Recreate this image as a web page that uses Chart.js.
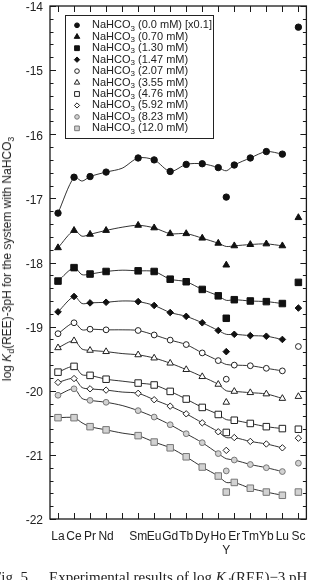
<!DOCTYPE html>
<html>
<head>
<meta charset="utf-8">
<script src="https://cdn.jsdelivr.net/npm/chart.js@4.4.1/dist/chart.umd.min.js"></script>
<style>
  html, body { margin: 0; padding: 0; background: #fff; overflow: hidden; }
  #wrap { position: relative; width: 312px; height: 580px; overflow: hidden; }
  #ytitle {
    position: absolute; left: 7px; top: 259px;
    transform: translate(-50%, -50%) rotate(-90deg);
    white-space: nowrap; font: 12px "Liberation Sans", Arial, sans-serif; color: #222;
  }
  #caption {
    position: absolute; left: 0; top: 569px; width: 312px; height: 20px;
    font: 15px "Liberation Serif", "Times New Roman", serif; color: #222; white-space: nowrap;
  }
  #caption span { position: absolute; top: 0; }
  sub { font-size: 72%; vertical-align: -0.3em; line-height: 0; }
</style>
</head>
<body>
<div id="wrap">
  <canvas id="kdChart"></canvas>
  <div id="ytitle">log <i>K</i><sub>d</sub>(REE)-3pH for the system with NaHCO<sub>3</sub></div>
  <div id="caption"><span style="left:-7px">Fig. 5</span><span style="left:49px">Experimental results of log <i>K</i><sub>d</sub>(REE)−3 pH</span></div>
</div>
<script>
// x axis: Pm has no data, Y sits between Ho and Er
var reeNames = ['La', 'Ce', 'Pr', 'Nd', 'Pm', 'Sm', 'Eu', 'Gd', 'Tb', 'Dy', 'Ho', 'Er', 'Tm', 'Yb', 'Lu', 'Sc'];
var reeX = [1, 2, 3, 4, 6, 7, 8, 9, 10, 11, 12, 13, 14, 15]; // La..Lu (no Pm)
var yElemX = 11.5;
var scX = 16;

// NaHCO3 concentrations for the legend
var concLabels = ['0.0 mM', '0.70 mM', '1.30 mM', '1.47 mM', '2.07 mM', '3.55 mM', '4.76 mM', '5.92 mM', '8.23 mM', '12.0 mM'];
var concNotes = [' [x0.1]', '', '', '', '', '', '', '', '', ''];

// log Kd(REE)-3pH, La..Lu
var na000 = [-17.23, -16.67, -16.66, -16.59, -16.37, -16.40, -16.58, -16.47, -16.46, -16.52, -16.48, -16.37, -16.27, -16.31];
var na070 = [-17.77, -17.50, -17.56, -17.50, -17.42, -17.46, -17.55, -17.55, -17.62, -17.70, -17.74, -17.72, -17.71, -17.74];
var na130 = [-18.29, -18.08, -18.18, -18.14, -18.13, -18.14, -18.26, -18.30, -18.42, -18.52, -18.58, -18.60, -18.61, -18.64];
var na147 = [-18.77, -18.53, -18.63, -18.62, -18.61, -18.67, -18.78, -18.84, -18.94, -19.06, -19.12, -19.14, -19.15, -19.20];
var na207 = [-19.11, -18.94, -19.04, -19.05, -19.06, -19.13, -19.21, -19.28, -19.41, -19.53, -19.60, -19.61, -19.65, -19.69];
var na355 = [-19.33, -19.22, -19.37, -19.39, -19.44, -19.49, -19.57, -19.67, -19.78, -19.90, -20.01, -20.03, -20.05, -20.12];
var na476 = [-19.71, -19.62, -19.76, -19.82, -19.88, -19.91, -20.01, -20.13, -20.26, -20.37, -20.46, -20.51, -20.56, -20.59];
var na592 = [-19.87, -19.81, -19.97, -19.99, -20.04, -20.14, -20.24, -20.36, -20.50, -20.64, -20.73, -20.79, -20.83, -20.89];
var na823 = [-20.07, -19.97, -20.15, -20.18, -20.31, -20.41, -20.53, -20.67, -20.81, -20.98, -21.08, -21.15, -21.20, -21.26];
var na120 = [-20.42, -20.42, -20.56, -20.61, -20.70, -20.80, -20.89, -21.03, -21.19, -21.33, -21.43, -21.52, -21.58, -21.63];

// Y and Sc points (not on the curves)
var yValues = [-16.98, -18.04, -18.87, -19.39, -19.82, -20.18, -20.65, -20.93, -21.25, -21.58];
var scValues = [-14.33, -17.30, -18.31, -18.71, -19.31, -20.09, -20.60, -20.74, -21.13, -21.58];

// extra vertices of the drawn curves: between Ce and Pr, at Pm, at Y
var curveCePr = [-16.73, -17.59, -18.19, -18.64, -19.05, -19.35, -19.75, -19.95, -20.12, -20.50];
var curvePm = [-16.53, -17.45, -18.12, -18.60, -19.05, -19.42, -19.85, -20.02, -20.23, -20.66];
var curveAtY = [-16.57, -17.75, -18.59, -19.12, -19.59, -20.00, -20.45, -20.73, -21.06, -21.43];

var seriesValues = [na000, na070, na130, na147, na207, na355, na476, na592, na823, na120];

// marker styles
var pointStyles = ['circle', 'triangle', 'rect', 'rectRot', 'circle', 'triangle', 'rect', 'rectRot', 'circle', 'rect'];
var pointRadii = [3.2, 3.9, 4.6, 3.3, 2.9, 3.8, 4.6, 3.2, 2.9, 4.6];
var legendRadii = [2.4, 3.2, 3.4, 2.7, 2.3, 3.1, 3.4, 2.6, 2.3, 3.3];
var fills = ['#111', '#111', '#111', '#111', '#fff', '#fff', '#fff', '#fff', '#d2d2d2', '#d2d2d2'];
var borders = ['#111', '#111', '#111', '#111', '#222', '#222', '#222', '#222', '#777', '#777'];

Chart.defaults.font.family = '"Liberation Sans", Arial, sans-serif';

var datasets = [];
seriesValues.forEach(function (vals, i) {
    var label = 'NaHCO3 (' + concLabels[i] + ')' + concNotes[i];
    var curve = reeX.map(function (x, j) { return { x: x, y: vals[j] }; });
    curve.push({ x: 2.5, y: curveCePr[i] }, { x: 5, y: curvePm[i] }, { x: yElemX, y: curveAtY[i] });
    curve.sort(function (a, b) { return a.x - b.x; });
    datasets.push({
        label: label + ' curve',
        data: curve,
        borderColor: '#333',
        borderWidth: 1,
        pointRadius: 0,
        tension: 0.3,
        fill: false,
        order: 2
    });
    var pts = reeX.map(function (x, j) { return { x: x, y: vals[j] }; });
    pts.push({ x: yElemX, y: yValues[i] }, { x: scX, y: scValues[i] });
    datasets.push({
        label: label,
        data: pts,
        showLine: false,
        pointStyle: pointStyles[i],
        pointRadius: pointRadii[i],
        backgroundColor: fills[i],
        borderColor: borders[i],
        borderWidth: 1,
        order: 1
    });
});

// frame with inward ticks on all four sides
var framePlugin = {
    id: 'frame',
    beforeDatasetsDraw: function (chart) {
        var ctx = chart.ctx, a = chart.chartArea;
        var xs = chart.scales.x, ys = chart.scales.y;
        ctx.save();
        ctx.strokeStyle = '#1a1a1a';
        ctx.lineWidth = 1;
        ctx.beginPath();
        for (var i = 1; i <= reeNames.length; i++) {
            var px = Math.round(xs.getPixelForValue(i)) + 0.5;
            ctx.moveTo(px, a.top); ctx.lineTo(px, a.top + 6);
            ctx.moveTo(px, a.bottom); ctx.lineTo(px, a.bottom - 6);
        }
        for (var k = 0; k <= 40; k++) {
            var py = Math.round(ys.getPixelForValue(-22 + k * 0.2)) + 0.5;
            var len = (k % 5 === 0) ? 6 : 3.5;
            ctx.moveTo(a.left, py); ctx.lineTo(a.left + len, py);
            ctx.moveTo(a.right, py); ctx.lineTo(a.right - len, py);
        }
        ctx.stroke();
        ctx.lineWidth = 1.3;
        ctx.strokeRect(a.left, a.top, a.right - a.left, a.bottom - a.top);
        ctx.restore();
    }
};

// boxed legend inside the plot and the extra "Y" tick label
var legendPlugin = {
    id: 'boxLegend',
    afterDraw: function (chart) {
        var ctx = chart.ctx;
        var font = '"Liberation Sans", Arial, sans-serif';
        ctx.save();
        ctx.fillStyle = '#fff';
        ctx.fillRect(65, 15, 148, 123);
        ctx.strokeStyle = '#222';
        ctx.lineWidth = 1;
        ctx.strokeRect(65.5, 15.5, 148, 123);
        ctx.textBaseline = 'middle';
        ctx.textAlign = 'left';
        concLabels.forEach(function (c, i) {
            var y = 25.3 + i * 11.45;
            ctx.fillStyle = fills[i];
            ctx.strokeStyle = borders[i];
            ctx.lineWidth = 1;
            Chart.helpers.drawPoint(ctx, { pointStyle: pointStyles[i], radius: legendRadii[i], rotation: 0, borderWidth: 1 }, 77, y);
            ctx.fillStyle = '#222';
            var x = 92;
            ctx.font = '11px ' + font;
            ctx.fillText('NaHCO', x, y);
            x += ctx.measureText('NaHCO').width;
            ctx.font = '8px ' + font;
            ctx.fillText('3', x, y + 3);
            x += ctx.measureText('3').width;
            ctx.font = '11px ' + font;
            ctx.fillText(' (' + c + ')' + concNotes[i], x, y);
        });
        ctx.font = '12px ' + font;
        ctx.textAlign = 'center';
        ctx.fillStyle = '#222';
        ctx.fillText('Y', chart.scales.x.getPixelForValue(yElemX), 551);
        ctx.restore();
    }
};

var kdChart = new Chart(document.getElementById('kdChart'), {
    type: 'line',
    data: { datasets: datasets },
    options: {
        responsive: true,
        maintainAspectRatio: false,
        animation: false,
        layout: { padding: { top: 6, right: 4, left: 0, bottom: 0 } },
        plugins: { legend: { display: false }, tooltip: { enabled: false } },
        scales: {
            x: {
                type: 'linear', min: 0.5, max: 16.5,
                grid: { display: false, drawTicks: false },
                border: { display: false },
                afterBuildTicks: function (s) { s.ticks = reeNames.map(function (n, i) { return { value: i + 1 }; }); },
                afterFit: function (s) { s.height = 61; s.paddingLeft = 0; s.paddingRight = 0; },
                ticks: {
                    autoSkip: false, maxRotation: 0, minRotation: 0, padding: 10,
                    font: { size: 12 }, color: '#222',
                    callback: function (v) { var n = reeNames[v - 1]; return n === 'Pm' ? '' : n; }
                }
            },
            y: {
                min: -22, max: -14,
                grid: { display: false, drawTicks: false },
                border: { display: false },
                afterFit: function (s) { s.width = 50; s.paddingTop = 0; s.paddingBottom = 0; },
                ticks: {
                    stepSize: 1, padding: 7, labelOffset: 2, font: { size: 12 }, color: '#222',
                    callback: function (v) { return String(v); }
                }
            }
        }
    },
    plugins: [framePlugin, legendPlugin]
});
</script>
</body>
</html>
